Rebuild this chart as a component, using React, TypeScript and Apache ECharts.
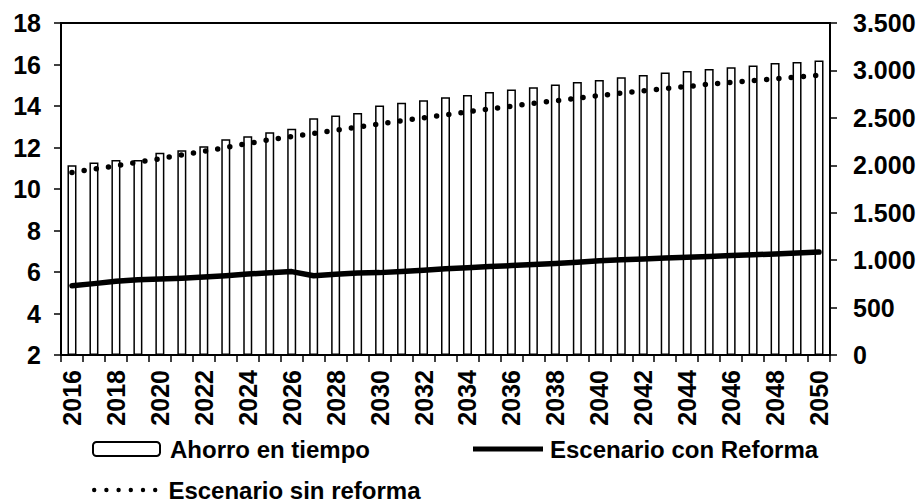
import React, { useEffect, useRef } from "react";
import * as echarts from "echarts";

const years: string[] = [];
for (let y = 2016; y <= 2050; y++) years.push(String(y));

// Ahorro en tiempo (right axis)
const ahorro = [
  2000, 2030, 2057, 2057, 2131, 2159, 2201, 2275, 2307, 2349, 2384, 2496, 2525, 2552, 2630,
  2658, 2686, 2718, 2742, 2773, 2799, 2823, 2851, 2879, 2900, 2928, 2953, 2978, 2995, 3016,
  3034, 3051, 3079, 3089, 3104,
];

// Escenario con Reforma (left axis)
const conReforma = [
  5.34, 5.44, 5.55, 5.63, 5.66, 5.7, 5.76, 5.82, 5.9, 5.96, 6.02, 5.82, 5.89, 5.95, 5.97,
  6.02, 6.08, 6.16, 6.21, 6.26, 6.31, 6.36, 6.41, 6.47, 6.54, 6.59, 6.63, 6.67, 6.71, 6.75,
  6.79, 6.83, 6.87, 6.92, 6.96,
];

// Escenario sin reforma (left axis)
const sinReforma = [
  10.8, 10.96, 11.12, 11.29, 11.46, 11.64, 11.81, 12.0, 12.19, 12.38, 12.52, 12.68, 12.83,
  12.98, 13.14, 13.29, 13.43, 13.57, 13.72, 13.86, 13.99, 14.13, 14.25, 14.38, 14.5, 14.62,
  14.73, 14.84, 14.94, 15.05, 15.14, 15.23, 15.31, 15.4, 15.48,
];

const FONT = "'Liberation Sans', Arial, sans-serif";

function fmtThousands(v: number): string {
  if (v >= 1000) {
    const th = Math.floor(v / 1000);
    const rest = String(v % 1000).padStart(3, "0");
    return th + "." + rest;
  }
  return String(v);
}

function dotsIcon(n: number, r: number, step: number): string {
  let d = "path://";
  for (let i = 0; i < n; i++) {
    const x = i * step;
    d += `M${x},${r}a${r},${r} 0 1,0 ${2 * r},0a${r},${r} 0 1,0 ${-2 * r},0Z`;
  }
  return d;
}

export default function App() {
  const ref = useRef<HTMLDivElement>(null);
  useEffect(() => {
    if (!ref.current) return;
    const chart = echarts.init(ref.current, undefined, { renderer: "svg" });
    const labelStyle = {
      color: "#000",
      fontWeight: "bold" as const,
      fontSize: 25,
      fontFamily: FONT,
    };
    const legendText = {
      color: "#000",
      fontWeight: "bold" as const,
      fontSize: 24,
      fontFamily: FONT,
    };
    chart.setOption({
      animation: false,
      backgroundColor: "#fff",
      grid: {
        left: 61,
        right: 92,
        top: 23,
        bottom: 148,
        containLabel: false,
        outerBoundsMode: "none",
        show: true,
        borderColor: "#000",
        borderWidth: 2,
      },
      legend: [
        {
          data: ["Ahorro en tiempo"],
          left: 92,
          top: 437,
          itemWidth: 67,
          itemHeight: 14,
          padding: 0,
          textStyle: { ...legendText, padding: [0, 0, 0, 5] },
          selectedMode: false,
        },
        {
          data: [{ name: "Escenario con Reforma", icon: "rect" }],
          left: 473,
          top: 437,
          itemWidth: 70,
          itemHeight: 5,
          padding: 0,
          textStyle: { ...legendText, padding: [0, 0, 0, 2] },
          selectedMode: false,
        },
        {
          data: [{ name: "Escenario sin reforma", icon: dotsIcon(6, 2.2, 12.2) }],
          left: 92,
          top: 478,
          itemWidth: 65.4,
          itemHeight: 4.4,
          padding: 0,
          textStyle: { ...legendText, padding: [0, 0, 0, 6] },
          selectedMode: false,
        },
      ],
      xAxis: {
        type: "category",
        data: years,
        boundaryGap: true,
        axisLine: { show: true, lineStyle: { color: "#000", width: 2 } },
        axisTick: { show: true, interval: 0, length: 7, lineStyle: { color: "#000", width: 1.5 } },
        axisLabel: { ...labelStyle, rotate: 90, interval: 1, margin: 15 },
        splitLine: { show: false },
      },
      yAxis: [
        {
          type: "value",
          min: 2,
          max: 18,
          interval: 2,
          position: "left",
          axisLine: { show: true, lineStyle: { color: "#000", width: 2 } },
          axisTick: { show: true, length: 7, lineStyle: { color: "#000", width: 1.5 } },
          axisLabel: { ...labelStyle, margin: 20 },
          splitLine: { show: false },
        },
        {
          type: "value",
          min: 0,
          max: 3500,
          interval: 500,
          position: "right",
          axisLine: { show: true, lineStyle: { color: "#000", width: 2 } },
          axisTick: { show: true, length: 7, lineStyle: { color: "#000", width: 1.5 } },
          axisLabel: { ...labelStyle, margin: 23, formatter: (v: number) => fmtThousands(v) },
          splitLine: { show: false },
        },
      ],
      series: [
        {
          name: "Ahorro en tiempo",
          type: "bar",
          yAxisIndex: 1,
          data: ahorro,
          barWidth: 9,
          itemStyle: { color: "#fff", borderColor: "#000", borderWidth: 1.5 },
        },
        {
          name: "Escenario con Reforma",
          type: "line",
          yAxisIndex: 0,
          data: conReforma,
          symbol: "none",
          showSymbol: false,
          lineStyle: { color: "#000", width: 5.5, cap: "round", join: "round" },
          itemStyle: { color: "#000" },
        },
        {
          name: "Escenario sin reforma",
          type: "line",
          yAxisIndex: 0,
          data: sinReforma,
          symbol: "none",
          showSymbol: false,
          lineStyle: { color: "#000", width: 5.5, type: [0, 12.3], cap: "round" },
          itemStyle: { color: "#000" },
        },
      ],
    });
    return () => chart.dispose();
  }, []);
  return (
    <div
      ref={ref}
      style={{ position: "absolute", left: 0, top: 0, width: 922, height: 503, background: "#fff" }}
    />
  );
}
